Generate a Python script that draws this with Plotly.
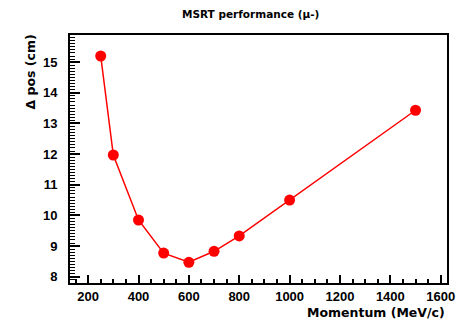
import plotly.graph_objects as go

# Position resolution vs. muon momentum
momentum = [250, 300, 400, 500, 600, 700, 800, 1000, 1500]   # MeV/c
delta_pos = [15.2, 11.97, 9.85, 8.77, 8.47, 8.83, 9.33, 10.5, 13.43]  # cm

title_text = "MSRT performance (\u03bc-)"
x_title = "Momentum (MeV/c)"
y_title = "\u0394 pos (cm)"

tick_font = dict(family="Liberation Sans", size=13, color="black", weight="bold")
label_font = dict(family="DejaVu Sans", size=12.5, color="black", weight="bold")

fig = go.Figure()
fig.add_trace(go.Scatter(
    x=momentum, y=delta_pos,
    mode="lines+markers",
    line=dict(color="#ff0000", width=1.5),
    marker=dict(color="#ff0000", size=11, symbol="circle", line=dict(width=0)),
    showlegend=False,
))

fig.update_layout(
    width=473, height=322,
    margin=dict(l=70, r=26, t=35, b=39),
    paper_bgcolor="white", plot_bgcolor="white",
    xaxis=dict(
        range=[128, 1625], tick0=0, dtick=200,
        ticks="inside", ticklen=8, tickwidth=1.5, tickcolor="black",
        minor=dict(dtick=50, ticks="inside", ticklen=4, tickwidth=1.5, tickcolor="black",
                   showgrid=False),
        showline=True, linecolor="black", linewidth=2, mirror=True,
        showgrid=False, zeroline=False, tickfont=tick_font,
        ticklabelstandoff=0, layer="above traces",
    ),
    yaxis=dict(
        range=[7.795, 15.885], tick0=0, dtick=1,
        ticks="inside", ticklen=10, tickwidth=1.5, tickcolor="black",
        minor=dict(dtick=0.1, ticks="inside", ticklen=5, tickwidth=1.2, tickcolor="black",
                   showgrid=False),
        showline=True, linecolor="black", linewidth=2, mirror=True,
        showgrid=False, zeroline=False, tickfont=tick_font,
        ticklabelstandoff=8, layer="above traces",
    ),
    annotations=[
        dict(text=title_text, xref="paper", yref="paper", x=0.48, y=1,
             yshift=21, xanchor="center", yanchor="middle", showarrow=False,
             font=dict(family="DejaVu Sans", size=10.5, color="black", weight="bold")),
        dict(text=x_title, xref="paper", yref="paper", x=1, y=0,
             yshift=-29, xanchor="right", yanchor="middle", showarrow=False,
             font=label_font),
        dict(text=y_title, xref="paper", yref="paper", x=0, y=1,
             xshift=-40, yshift=2, xanchor="center", yanchor="top", textangle=-90,
             showarrow=False, font=label_font),
    ],
)

fig.write_html("out.html")
